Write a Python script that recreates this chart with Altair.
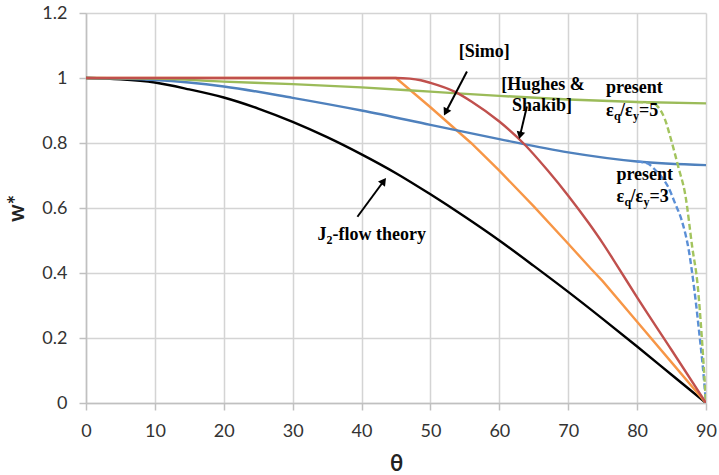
import math
import altair as alt
import pandas as pd

# ---------------- data ----------------
theta_j2 = [0, 5, 10, 15, 20, 25, 30, 35, 40, 45, 50, 55, 60, 65, 70, 75, 80, 85, 90]
w_j2 = [1.0, 0.996, 0.986, 0.965, 0.940, 0.906, 0.865, 0.818, 0.765, 0.707, 0.642,
        0.573, 0.500, 0.422, 0.342, 0.259, 0.174, 0.087, 0.0]

theta_simo = [0, 45, 50, 55.9, 60, 65, 70, 73.3, 75, 80, 85, 90]
w_simo = [1.0, 1.0, 0.91, 0.80, 0.715, 0.605, 0.49, 0.413, 0.375, 0.25, 0.125, 0.0]

theta_hs = [0, 45, 47, 48.6, 50, 53.5, 56, 60, 63.6, 67, 70, 73, 75, 77, 80, 85, 90]
w_hs = [1.0, 1.0, 0.998, 0.993, 0.985, 0.958, 0.927, 0.866, 0.797, 0.716, 0.638,
        0.553, 0.492, 0.426, 0.325, 0.163, 0.0]

theta_present = [0, 10, 20, 30, 40, 50, 60, 70, 80, 90]
w_present5 = [1.0, 0.998, 0.989, 0.981, 0.971, 0.958, 0.945, 0.934, 0.926, 0.922]
w_present3 = [1.0, 0.994, 0.974, 0.939, 0.900, 0.856, 0.812, 0.771, 0.743, 0.732]

theta_p5_dash = [80, 82, 83, 84, 85, 86, 87, 88, 88.8, 89.4, 90]
w_p5_dash = [0.926, 0.924, 0.912, 0.875, 0.805, 0.725, 0.64, 0.48, 0.36, 0.2, 0.0]

theta_p3_dash = [80, 81.5, 82.5, 83.5, 84.5, 85.5, 86.5, 87.5, 88.3, 89, 89.5, 90]
w_p3_dash = [0.743, 0.737, 0.72, 0.697, 0.665, 0.615, 0.56, 0.47, 0.35, 0.22, 0.12, 0.0]

x_ticks = [0, 10, 20, 30, 40, 50, 60, 70, 80, 90]
y_ticks = [0, 0.2, 0.4, 0.6, 0.8, 1.0, 1.2]

# ---------------- layout / style ----------------
W, H = 620, 390
PX_DEG = W / 90.0
PX_W = H / 1.2
SERIF = "Times New Roman, Liberation Serif, serif"

GRID = "#d4d4d4"
xs = alt.Scale(domain=[0, 90], nice=False, zero=False)
ys = alt.Scale(domain=[0, 1.2], nice=False, zero=False)

xaxis = alt.Axis(values=x_ticks, title="θ", grid=True, gridColor=GRID, gridWidth=1.5,
                 domainColor="#c0c0c0", domainWidth=1.5, tickColor="#c0c0c0",
                 tickSize=7, tickWidth=1.5, labelFont="Lato", labelFontSize=18,
                 labelColor="#333333", labelPadding=12, labelFlush=False,
                 titleFont="Lato", titleFontSize=22, titleFontWeight="bold",
                 titleColor="#222222", titlePadding=13)
yaxis = alt.Axis(values=y_ticks, title="w*", grid=True, gridColor=GRID, gridWidth=1.5,
                 domainColor="#c0c0c0", domainWidth=1.5, tickColor="#c0c0c0",
                 tickSize=7, tickWidth=1.5, labelFont="Lato", labelFontSize=18,
                 labelColor="#333333", labelPadding=12, labelFlush=False,
                 labelExpr="toString(round(datum.value*10)/10)",
                 titleFont="Lato", titleFontSize=22, titleFontWeight="bold",
                 titleColor="#222222", titlePadding=13)


def X():
    return alt.X("theta:Q", scale=xs, axis=xaxis)


def Y():
    return alt.Y("w:Q", scale=ys, axis=yaxis)


def line(th, w, color, dash=None, width=2.4, interp="monotone"):
    df = pd.DataFrame({"theta": th, "w": w})
    kw = dict(color=color, strokeWidth=width, clip=True, interpolate=interp)
    if dash:
        kw["strokeDash"] = dash
    return alt.Chart(df).mark_line(**kw).encode(x=X(), y=Y())


def txt(t, th, w, size=18, align="left", dx=0, dy=0):
    df = pd.DataFrame({"theta": [th], "w": [w], "t": [t]})
    return alt.Chart(df).mark_text(font=SERIF, fontWeight="bold",
                                   fontSize=size, align=align, baseline="middle",
                                   color="black", dx=dx, dy=dy).encode(
        x=X(), y=Y(), text="t:N")


def arrow(th0, w0, th1, w1):
    px = (th1 - th0) * PX_DEG
    py = -(w1 - w0) * PX_W
    n = math.hypot(px, py)
    ux, uy = px / n, py / n
    ang = math.degrees(math.atan2(ux, -uy)) % 360
    back = 4.5
    cth = th1 - back * ux / PX_DEG
    cw = w1 + back * uy / PX_W
    eth = th1 - 6 * ux / PX_DEG
    ew = w1 + 6 * uy / PX_W
    shaft = alt.Chart(pd.DataFrame({"theta": [th0], "w": [w0], "t2": [eth], "w2": [ew]})
                      ).mark_rule(color="black", strokeWidth=2).encode(
        x=X(), y=Y(), x2="t2:Q", y2="w2:Q")
    head = alt.Chart(pd.DataFrame({"theta": [cth], "w": [cw]})).mark_point(
        shape="triangle", filled=True, size=75, angle=ang, color="black", opacity=1
    ).encode(x=X(), y=Y())
    return [shaft, head]


layers = [
    line(theta_j2, w_j2, "#000000"),
    line(theta_simo, w_simo, "#F79646", interp="linear"),
    line(theta_present, w_present3, "#4F81BD"),
    line(theta_present, w_present5, "#9BBB59"),
    line(theta_p3_dash, w_p3_dash, "#5B8FD6", dash=[6, 3]),
    line(theta_p5_dash, w_p5_dash, "#A3C45E", dash=[6, 3]),
    line(theta_hs, w_hs, "#C0504D"),
]

layers += arrow(55.3, 1.02, 52.0, 0.886)
layers += arrow(64.0, 0.912, 62.9, 0.814)
layers += arrow(39.4, 0.573, 43.5, 0.691)

layers += [
    txt("[Simo]", 57.8, 1.081, align="center"),
    txt("[Hughes &", 66.35, 0.978, align="center"),
    txt("Shakib]", 66.2, 0.914, align="center"),
    # present eq/ey = 5
    txt("present", 75.5, 0.968),
    txt("ε", 75.5, 0.90),
    txt("q", 75.5, 0.90, size=12, dx=8, dy=5),
    txt("/ε", 75.5, 0.90, dx=14),
    txt("y", 75.5, 0.90, size=12, dx=27, dy=5),
    txt("=5", 75.5, 0.90, dx=33),
    # present eq/ey = 3
    txt("present", 77.0, 0.702),
    txt("ε", 77.0, 0.634),
    txt("q", 77.0, 0.634, size=12, dx=8, dy=5),
    txt("/ε", 77.0, 0.634, dx=14),
    txt("y", 77.0, 0.634, size=12, dx=27, dy=5),
    txt("=3", 77.0, 0.634, dx=33),
    # J2-flow theory
    txt("J", 33.6, 0.517),
    txt("2", 33.6, 0.517, size=12, dx=9, dy=5),
    txt("-flow theory", 33.6, 0.517, dx=15),
]

chart = alt.layer(*layers).properties(
    width=W, height=H,
    autosize=alt.AutoSizeParams(type="none"),
    padding={"left": 86, "top": 13, "right": 13, "bottom": 72},
    background="white",
).configure_view(stroke=None)

chart.save("out.html", embed_options={"renderer": "svg", "actions": False})
